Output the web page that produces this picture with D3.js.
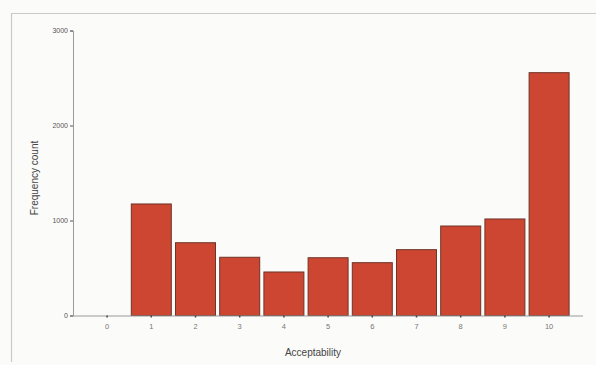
<!DOCTYPE html>
<html>
<head>
<meta charset="utf-8">
<script src="https://cdn.jsdelivr.net/npm/d3@7"></script>
<style>
  html, body { margin: 0; padding: 0; background: #fbfbf9; }
  svg { display: block; font-family: "Liberation Sans", Arial, sans-serif; }
</style>
</head>
<body>
<svg id="chart" width="596" height="365"></svg>
<script>
// Acceptability scores and how often each was given
const categories = ["0", "1", "2", "3", "4", "5", "6", "7", "8", "9", "10"];
const counts = [0, 1174, 766, 613, 458, 608, 556, 693, 942, 1016, 2556];
const yTicks = [0, 1000, 2000, 3000];

const svg = d3.select("#chart");
const margin = { left: 73, right: 13, top: 31, bottom: 50 };
const plotBottom = 315.5;

// frame around the figure
svg.append("path")
  .attr("d", "M11.5,362 V13.5 H596")
  .attr("fill", "none")
  .attr("stroke", "#c9c9c6")
  .attr("stroke-width", 1.2);

const x = d3.scaleBand()
  .domain(categories)
  .range([85, 85 + 44.2 * categories.length])
  .paddingInner(0.095)
  .paddingOuter(0.0475);

const y = d3.scaleLinear()
  .domain([0, 3000])
  .range([plotBottom, plotBottom - 285]);

// bars
svg.append("g")
  .selectAll("rect")
  .data(counts.map((v, i) => ({ k: categories[i], v })))
  .join("rect")
  .filter(d => d.v > 0)
  .attr("x", d => x(d.k))
  .attr("y", d => y(d.v))
  .attr("width", x.bandwidth())
  .attr("height", d => y(0) - y(d.v))
  .attr("fill", "#cd4632")
  .attr("stroke", "#6e3428")
  .attr("stroke-width", 1);

// y axis
const yAxis = d3.axisLeft(y).tickValues(yTicks).tickSize(3).tickPadding(2).tickFormat(d3.format("d"));
const gy = svg.append("g").attr("transform", `translate(${margin.left},0)`).call(yAxis);
gy.select(".domain").attr("stroke", "#9a9a9a");
gy.selectAll(".tick line").attr("stroke", "#555");
gy.selectAll(".tick text").attr("font-size", 7).attr("fill", "#555");

// x axis
const xAxis = d3.axisBottom(x).tickSize(2).tickPadding(6).tickSizeOuter(0);
const gx = svg.append("g").attr("transform", `translate(0,${plotBottom})`).call(xAxis);
gx.select(".domain").attr("d", `M${margin.left},0.5H583`).attr("stroke", "#9a9a9a");
gx.selectAll(".tick line").attr("stroke", "#444").attr("stroke-width", 1.5);
gx.selectAll(".tick text").attr("font-size", 7.5).attr("fill", "#777");

// axis titles
svg.append("text")
  .attr("x", 313).attr("y", 356)
  .attr("text-anchor", "middle")
  .attr("font-size", 10)
  .attr("fill", "#444")
  .text("Acceptability");

svg.append("text")
  .attr("transform", "translate(38,178) rotate(-90)")
  .attr("text-anchor", "middle")
  .attr("font-size", 10)
  .attr("fill", "#444")
  .text("Frequency count");
</script>
</body>
</html>
